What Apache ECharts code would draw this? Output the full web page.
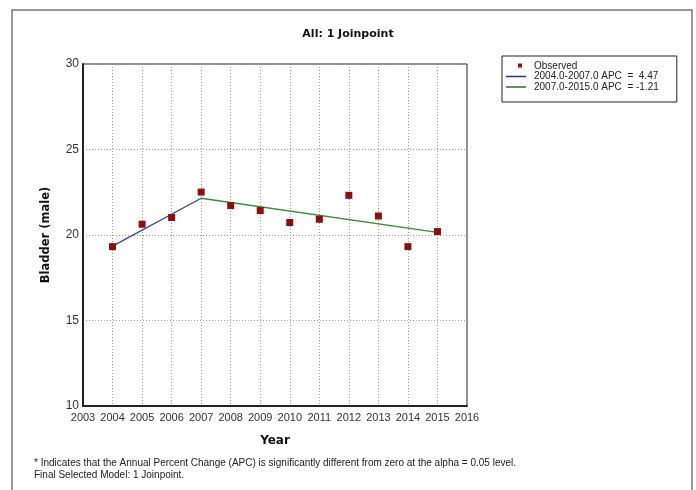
<!DOCTYPE html>
<html>
<head>
<meta charset="utf-8">
<script src="https://cdn.jsdelivr.net/npm/echarts@6/dist/echarts.min.js"></script>
<style>
  html, body { margin: 0; padding: 0; background: #fff; }
  #chart { width: 696px; height: 490px; }
</style>
</head>
<body>
<div id="chart"></div>
<script>
// Observed rates by year
const years = [2004, 2005, 2006, 2007, 2008, 2009, 2010, 2011, 2012, 2013, 2014, 2015];
const observed = [19.32, 20.63, 21.02, 22.51, 21.72, 21.43, 20.73, 20.92, 22.32, 21.11, 19.32, 20.2];

// Joinpoint segments (endpoints of each fitted trend)
const seg1Years = [2004, 2007];
const seg1Values = [19.35, 22.15];
const seg2Years = [2007, 2015];
const seg2Values = [22.15, 20.15];

const seg1Name = '2004.0-2007.0 APC  =  4.47';
const seg2Name = '2007.0-2015.0 APC  = -1.21';

const xTicks = { min: 2003, max: 2016, step: 1 };
const yTicks = { min: 10, max: 30, step: 5 };

const zip = (xs, ys) => xs.map((x, i) => [x, ys[i]]);

const chart = echarts.init(document.getElementById('chart'));
const font = 'Liberation Sans, Arial, sans-serif';
const boldFont = 'DejaVu Sans, Verdana, sans-serif';

// legend glyphs: tiny corner anchors keep the real shape at its drawn size
const anchors = 'M0,0 L0.01,0 L0.01,0.01 Z M20,10 L19.99,10 L19.99,9.99 Z ';
const squareIcon = 'path://' + anchors + 'M12,2.5 L16,2.5 L16,6.5 L12,6.5 Z';
const lineIcon = 'path://' + anchors + 'M0,4.3 L20,4.3 L20,5.7 L0,5.7 Z';

chart.setOption({
  animation: false,
  backgroundColor: '#fff',
  title: {
    text: 'All: 1 Joinpoint',
    left: 'center',
    top: 24,
    textStyle: { fontFamily: boldFont, fontSize: 11, fontWeight: 'bold', color: '#111' }
  },
  grid: {
    left: 83, top: 64, right: 229, bottom: 84,
    show: true, borderColor: '#222', borderWidth: 1, backgroundColor: 'transparent'
  },
  legend: {
    left: 502, top: 56,
    orient: 'vertical',
    padding: [5, 18, 10, 4],
    borderColor: '#222', borderWidth: 1,
    itemWidth: 20, itemHeight: 10, itemGap: 0.5,
    textStyle: { fontFamily: font, fontSize: 10, lineHeight: 10, color: '#222', padding: [0, 0, 0, 3] },
    data: [
      { name: 'Observed', icon: squareIcon },
      { name: seg1Name, icon: lineIcon },
      { name: seg2Name, icon: lineIcon }
    ]
  },
  xAxis: {
    type: 'value',
    min: xTicks.min, max: xTicks.max, interval: xTicks.step,
    name: 'Year',
    nameLocation: 'middle',
    nameGap: 29,
    nameTextStyle: { fontFamily: boldFont, fontSize: 12, fontWeight: 'bold', color: '#111' },
    axisLine: { lineStyle: { color: '#222', width: 2 } },
    axisTick: { show: false },
    axisLabel: { fontFamily: font, fontSize: 11, color: '#333', margin: 6, formatter: v => String(v) },
    splitLine: { show: true, lineStyle: { color: '#999', type: [1, 2], width: 1 } }
  },
  yAxis: {
    type: 'value',
    min: yTicks.min, max: yTicks.max, interval: yTicks.step,
    name: 'Bladder (male)',
    nameLocation: 'middle',
    nameGap: 31,
    nameTextStyle: { fontFamily: boldFont, fontSize: 11.5, fontWeight: 'bold', color: '#111' },
    axisLine: { lineStyle: { color: '#222', width: 2 } },
    axisTick: { show: false },
    axisLabel: { fontFamily: font, fontSize: 12, color: '#333', margin: 4 },
    splitLine: { show: true, lineStyle: { color: '#999', type: [1, 2], width: 1 } }
  },
  series: [
    {
      name: 'Observed',
      type: 'scatter',
      symbol: 'rect',
      symbolSize: 7,
      itemStyle: { color: '#8b0f0f', opacity: 1 },
      data: zip(years, observed),
      z: 5
    },
    {
      name: seg1Name,
      type: 'line',
      symbol: 'none',
      lineStyle: { color: '#3f3fa6', width: 1.3 },
      itemStyle: { color: '#2e2e8e' },
      data: zip(seg1Years, seg1Values)
    },
    {
      name: seg2Name,
      type: 'line',
      symbol: 'none',
      lineStyle: { color: '#3a8a3a', width: 1.3 },
      itemStyle: { color: '#2a6e2a' },
      data: zip(seg2Years, seg2Values)
    }
  ],
  graphic: [
    {
      type: 'rect',
      shape: { x: 12, y: 10, width: 680, height: 500 },
      style: { fill: 'none', stroke: '#777', lineWidth: 1.5 },
      silent: true
    },
    {
      type: 'text',
      x: 34, y: 457,
      style: {
        text: '* Indicates that the Annual Percent Change (APC) is significantly different from zero at the alpha = 0.05 level.\nFinal Selected Model: 1 Joinpoint.',
        fontFamily: font, fontSize: 10, lineHeight: 12, fill: '#222'
      }
    }
  ]
});
</script>
</body>
</html>
